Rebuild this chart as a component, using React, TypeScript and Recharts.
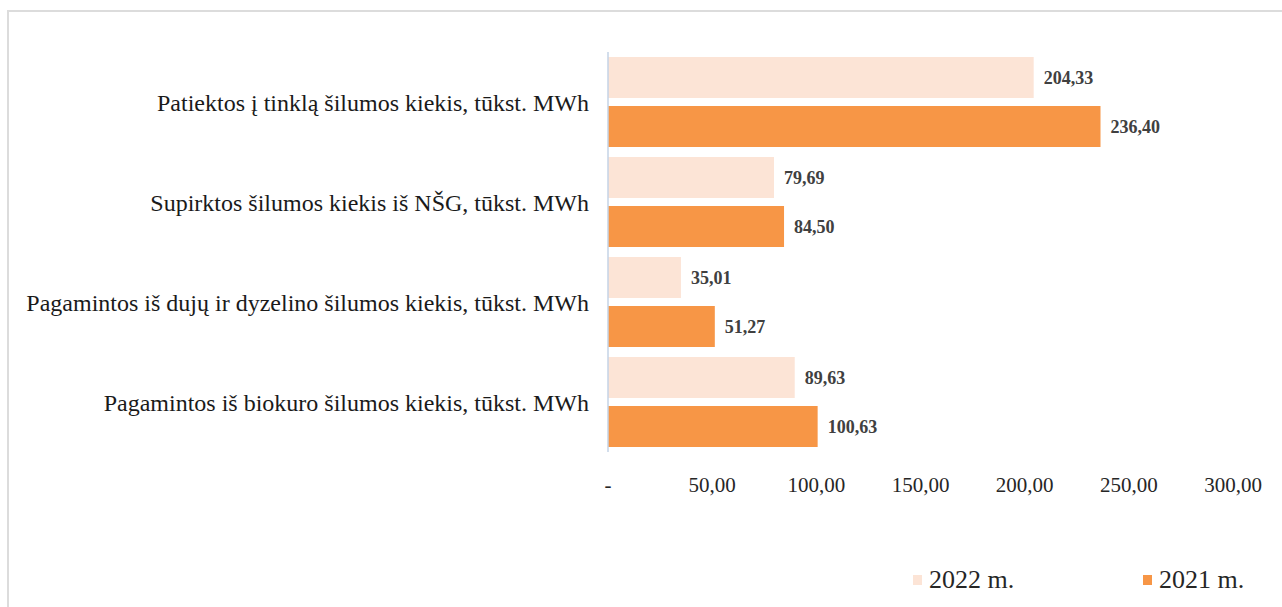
import React from "react";
import { BarChart, Bar, XAxis, YAxis, LabelList, Legend } from "recharts";

const categories = [
  "Patiektos į tinklą šilumos kiekis, tūkst. MWh",
  "Supirktos šilumos kiekis iš NŠG, tūkst. MWh",
  "Pagamintos iš dujų ir dyzelino šilumos kiekis, tūkst. MWh",
  "Pagamintos iš biokuro šilumos kiekis, tūkst. MWh",
];
const values2022 = [204.33, 79.69, 35.01, 89.63];
const values2021 = [236.4, 84.5, 51.27, 100.63];
const xTicks = [0, 50, 100, 150, 200, 250, 300];
const seriesNames = ["2022 m.", "2021 m."];
const colors = ["#FCE4D6", "#F79646"];

const data = categories.map((c, i) => ({ name: c, y2022: values2022[i], y2021: values2021[i] }));

const fmt = (v: number) => (v === 0 ? "-" : v.toFixed(2).replace(".", ","));
const FONT = '"Liberation Serif", "Times New Roman", serif';

const LegendContent = () => (
  <div style={{ position: "relative", width: 1282, height: 32, fontFamily: FONT }}>
    {seriesNames.map((n, i) => (
      <div
        key={n}
        style={{
          position: "absolute",
          left: i === 0 ? 913 : 1143,
          top: 0,
          display: "flex",
          alignItems: "center",
          fontSize: 26,
          lineHeight: "32px",
          color: "#262626",
        }}
      >
        <span style={{ display: "inline-block", width: 9, height: 10, background: colors[i], marginRight: 7 }} />
        <span>{n}</span>
      </div>
    ))}
  </div>
);

export default function App() {
  return (
    <div style={{ position: "fixed", left: 0, top: 0, width: 1282, height: 607, background: "#fff", overflow: "hidden" }}>
      <div
        style={{
          position: "absolute",
          left: 7,
          top: 10,
          width: 1300,
          height: 620,
          border: "2px solid #DCDCDC",
          boxSizing: "border-box",
        }}
      />
      <BarChart
        width={1282}
        height={607}
        data={data}
        layout="vertical"
        margin={{ top: 52, right: 49, left: 0, bottom: 0 }}
        barCategoryGap="5%"
        barGap={8}
        style={{ position: "absolute", left: 0, top: 0 }}
      >
        <XAxis
          type="number"
          domain={[0, 300]}
          ticks={xTicks}
          tickFormatter={fmt}
          axisLine={false}
          tickLine={false}
          tickSize={0}
          tickMargin={25}
          height={123}
          tick={{ fontFamily: FONT, fontSize: 21, fill: "#262626" }}
          interval={0}
        />
        <YAxis
          type="category"
          dataKey="name"
          width={608}
          axisLine={{ stroke: "#C5D3E6", strokeWidth: 1.5 }}
          tickLine={false}
          tickSize={0}
          tickMargin={19}
          tick={{ fontFamily: FONT, fontSize: 24, fill: "#1a1a1a" }}
          interval={0}
        />
        <Legend verticalAlign="bottom" content={<LegendContent />} wrapperStyle={{ left: 0, bottom: 11 }} />
        <Bar dataKey="y2022" name={seriesNames[0]} fill={colors[0]} isAnimationActive={false}>
          <LabelList
            dataKey="y2022"
            position="right"
            offset={10}
            formatter={(v: number) => fmt(v)}
            style={{ fontFamily: FONT, fontSize: 18, fontWeight: "bold", fill: "#404040" }}
          />
        </Bar>
        <Bar dataKey="y2021" name={seriesNames[1]} fill={colors[1]} isAnimationActive={false}>
          <LabelList
            dataKey="y2021"
            position="right"
            offset={10}
            formatter={(v: number) => fmt(v)}
            style={{ fontFamily: FONT, fontSize: 18, fontWeight: "bold", fill: "#404040" }}
          />
        </Bar>
      </BarChart>
    </div>
  );
}
